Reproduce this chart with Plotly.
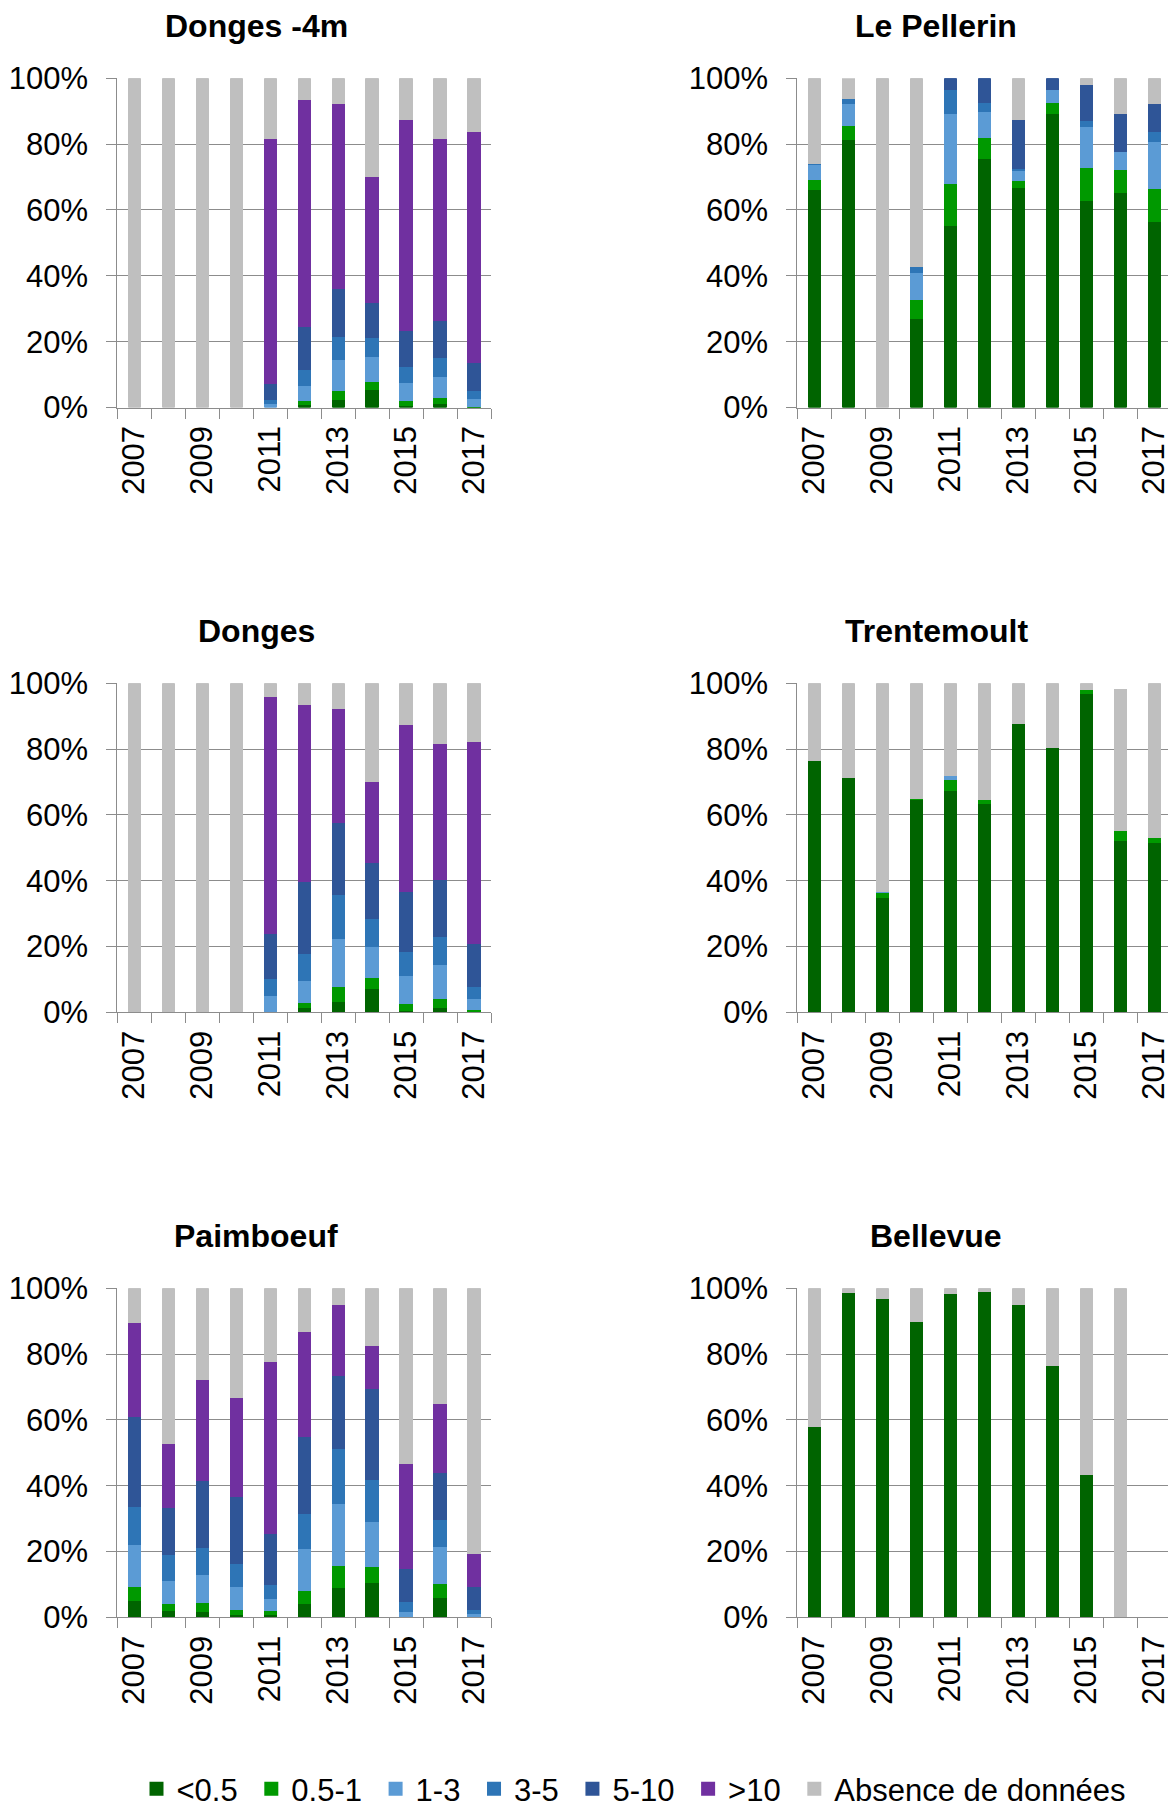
import plotly.graph_objects as go

years = [2007, 2008, 2009, 2010, 2011, 2012, 2013, 2014, 2015, 2016, 2017]
classes = ["<0.5", "0.5-1", "1-3", "3-5", "5-10", ">10", "Absence de données"]
colors = ["#006400", "#009900", "#5b9bd5", "#2e75b6", "#2f5597", "#7030a0", "#bfbfbf"]

# one list per class, bottom to top, values in %
donges_4m = [
    [0, 0, 0, 0, 0, 1.1, 2.7, 5.7, 0.9, 1.4, 0.2],
    [0, 0, 0, 0, 0, 1.2, 2.7, 2.4, 1.4, 1.7, 0.4],
    [0, 0, 0, 0, 1.4, 4.5, 9.2, 7.5, 5.5, 6.4, 2.4],
    [0, 0, 0, 0, 1.3, 4.8, 7.0, 5.8, 4.8, 5.8, 2.4],
    [0, 0, 0, 0, 4.6, 13.3, 14.8, 10.8, 11.0, 11.4, 8.4],
    [0, 0, 0, 0, 74.7, 68.8, 56.2, 38.2, 64.0, 55.3, 70.1],
    [100, 100, 100, 100, 18.0, 6.3, 7.4, 29.6, 12.4, 18.0, 16.2],
]
le_pellerin = [
    [66.3, 81.5, 0, 27.3, 55.4, 75.7, 66.9, 89.4, 62.9, 65.6, 56.7],
    [3.2, 4.3, 0, 5.8, 12.9, 6.4, 2.3, 3.5, 10.2, 7.0, 10.1],
    [4.4, 6.7, 0, 8.1, 21.2, 8.0, 3.0, 3.7, 12.4, 5.3, 14.2],
    [0.3, 1.6, 0, 1.8, 7.1, 2.6, 0.7, 0, 1.7, 0, 3.1],
    [0, 0, 0, 0, 3.4, 7.3, 14.7, 3.4, 11.0, 11.6, 8.5],
    [0, 0, 0, 0, 0, 0, 0, 0, 0, 0, 0],
    [25.8, 5.6, 100, 57.0, 0, 0, 12.4, 0, 1.8, 10.5, 7.4],
]
donges = [
    [0, 0, 0, 0, 0, 1.6, 3.5, 7.3, 0.8, 1.5, 0.5],
    [0, 0, 0, 0, 0.4, 1.6, 4.5, 3.3, 2.1, 2.7, 0.4],
    [0, 0, 0, 0, 4.8, 6.6, 14.5, 9.6, 8.4, 10.5, 3.5],
    [0, 0, 0, 0, 5.1, 8.2, 13.4, 8.4, 7.3, 8.4, 3.6],
    [0, 0, 0, 0, 13.7, 21.9, 21.9, 17.2, 18.2, 17.5, 13.2],
    [0, 0, 0, 0, 72.1, 53.8, 34.8, 24.6, 50.8, 41.4, 61.2],
    [100, 100, 100, 100, 3.9, 6.3, 7.4, 29.6, 12.4, 18.0, 17.6],
]
trentemoult = [
    [76.7, 71.4, 35.0, 64.7, 67.6, 63.5, 87.9, 80.7, 97.1, 52.3, 51.9],
    [0, 0, 1.6, 0.5, 3.4, 1.2, 0, 0, 1.2, 3.0, 1.3],
    [0, 0, 0.3, 0, 1.2, 0, 0, 0, 0, 0, 0],
    [0, 0, 0, 0, 0, 0, 0, 0, 0, 0, 0],
    [0, 0, 0, 0, 0, 0, 0, 0, 0, 0, 0],
    [0, 0, 0, 0, 0, 0, 0, 0, 0, 0, 0],
    [23.3, 28.6, 63.1, 34.8, 27.8, 35.3, 12.1, 19.3, 1.7, 42.7, 46.8],
]
paimboeuf = [
    [5.2, 2.1, 2.0, 0.9, 0.9, 4.3, 9.3, 10.7, 0, 6.3, 0],
    [4.4, 2.4, 2.7, 1.7, 1.2, 4.1, 6.7, 5.0, 0, 4.1, 0],
    [12.7, 6.8, 8.5, 6.9, 3.8, 12.7, 18.8, 13.5, 2.0, 11.2, 1.3],
    [11.4, 7.8, 8.1, 7.0, 4.2, 10.5, 16.6, 12.7, 2.9, 8.2, 1.2],
    [27.4, 14.3, 20.3, 20.3, 15.4, 23.6, 22.2, 27.8, 10.2, 14.3, 7.1],
    [28.7, 19.6, 30.9, 30.1, 52.3, 31.7, 21.7, 13.2, 31.8, 21.0, 10.0],
    [10.2, 47.0, 27.5, 33.1, 22.2, 13.1, 4.7, 17.1, 53.1, 34.9, 80.4],
]
bellevue = [
    [58.0, 99.0, 97.0, 90.2, 98.7, 99.1, 95.3, 76.7, 43.7, 0, 0],
    [0, 0, 0, 0, 0, 0, 0, 0, 0, 0, 0],
    [0, 0, 0, 0, 0, 0, 0, 0, 0, 0, 0],
    [0, 0, 0, 0, 0, 0, 0, 0, 0, 0, 0],
    [0, 0, 0, 0, 0, 0, 0, 0, 0, 0, 0],
    [0, 0, 0, 0, 0, 0, 0, 0, 0, 0, 0],
    [42.0, 1.0, 3.0, 9.8, 1.3, 0.9, 4.7, 23.3, 56.3, 100, 0],
]

sites = ["Donges -4m", "Le Pellerin", "Donges", "Trentemoult", "Paimboeuf", "Bellevue"]
site_data = [donges_4m, le_pellerin, donges, trentemoult, paimboeuf, bellevue]

W, H = 1168, 1807
FONT = "Liberation Sans, Arial, sans-serif"
GRID = "#8c8c8c"

# plot areas in pixels: (left, right) per column, (top, bottom) per row
cols_px = [(117.3, 491.0), (797.3, 1168.0)]
rows_px = [(78.3, 407.5), (683.3, 1012.3), (1288.3, 1617.3)]
title_x = [256, 936]
title_y = [26, 631, 1236]

fig = go.Figure()
layout = dict(
    width=W, height=H,
    margin=dict(l=0, r=0, t=0, b=0, autoexpand=False),
    paper_bgcolor="white", plot_bgcolor="white",
    barmode="stack",
    font=dict(family=FONT, color="black", size=31),
    annotations=[],
)

for i, (site, data) in enumerate(zip(sites, site_data)):
    r, c = divmod(i, 2)
    n = i + 1
    xname = "x" if n == 1 else f"x{n}"
    yname = "y" if n == 1 else f"y{n}"
    for k, cls in enumerate(classes):
        # empty segments are left out so their outline does not show as a line
        vals = [v if v else None for v in data[k]]
        label = cls if k == len(classes) - 1 else cls + "\u00a0"
        fig.add_trace(go.Bar(
            x=years, y=vals, name=label,
            marker=dict(color=colors[k], line=dict(width=2, color=colors[k])),
            width=0.33, xaxis=xname, yaxis=yname,
            legendgroup=cls, showlegend=(i == 0),
        ))
    x0, x1 = cols_px[c]
    y0, y1 = rows_px[r]
    xmax = 2017.5 if c == 0 else 2006.5 + (x1 - x0) / 34.0
    layout["xaxis" if n == 1 else f"xaxis{n}"] = dict(
        domain=[x0 / W, min(x1 / W, 1.0)], anchor=yname,
        range=[2006.5, xmax], automargin=False,
        tickmode="array", tickvals=years[::2], ticktext=[str(v) for v in years[::2]],
        tickangle=-90, ticks="", ticklabelstandoff=5, ticklabeloverflow="allow",
        showgrid=False, zeroline=False,
        showline=True, linecolor=GRID, linewidth=1,
        minor=dict(tickmode="linear", tick0=2006.5, dtick=1, ticks="outside",
                   ticklen=10, tickcolor=GRID, tickwidth=1, showgrid=False),
        tickfont=dict(size=31, family=FONT, color="black"),
        fixedrange=True,
    )
    layout["yaxis" if n == 1 else f"yaxis{n}"] = dict(
        domain=[1 - y1 / H, 1 - y0 / H], anchor=xname,
        range=[0, 100], dtick=20, ticksuffix="%", automargin=False,
        ticks="outside", ticklen=10, tickcolor=GRID, ticklabelstandoff=12,
        showgrid=True, gridcolor=GRID, gridwidth=1,
        zeroline=False, showline=True, linecolor=GRID, linewidth=1,
        tickfont=dict(size=31, family=FONT, color="black"),
        fixedrange=True,
    )
    layout["annotations"].append(dict(
        text=f"<b>{site}</b>", x=title_x[c] / W, y=1 - title_y[r] / H,
        xref="paper", yref="paper", xanchor="center", yanchor="middle",
        showarrow=False, font=dict(size=32, family=FONT, color="black"),
    ))

layout["legend"] = dict(
    orientation="h", x=634 / W, y=1 - 1789 / H, xanchor="center", yanchor="middle",
    font=dict(size=31, family=FONT, color="black"),
    traceorder="normal", bgcolor="rgba(0,0,0,0)",
)

fig.update_layout(**layout)
# drop the default page margin so the figure fills the window exactly
fig.write_html("out.html", config={"displayModeBar": False},
               post_script="document.body.style.margin='0';document.body.style.overflow='hidden';")
